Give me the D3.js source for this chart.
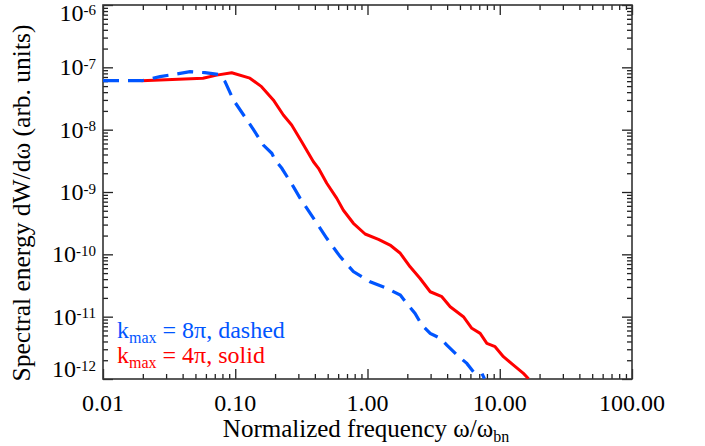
<!DOCTYPE html>
<html>
<head>
<meta charset="utf-8">
<script src="https://cdn.jsdelivr.net/npm/d3@7"></script>
<style>
  html, body { margin: 0; padding: 0; background: #fff; }
  svg { display: block; font-family: "Liberation Serif", "Times New Roman", serif; }
</style>
</head>
<body>
<svg id="chart" width="705" height="446"></svg>
<script>
// ---- data ----
const solidFreq = [0.0196, 0.057, 0.0724, 0.094, 0.129, 0.158, 0.194, 0.231, 0.267, 0.318, 0.390, 0.426, 0.492, 0.586, 0.657, 0.782, 0.959, 1.21, 1.48, 1.77, 2.10, 2.50, 2.98, 3.65, 4.22, 5.31, 6.15, 7.11, 7.99, 9.22, 10.66, 12.7, 15.1, 16.5];
const solidEnergy = [6.1e-8, 6.67e-8, 7.5e-8, 8.2e-8, 6.7e-8, 4.9e-8, 3.0e-8, 1.72e-8, 1.19e-8, 6.4e-9, 3.06e-9, 2.4e-9, 1.38e-9, 7.9e-10, 5.1e-10, 3.15e-10, 2.12e-10, 1.74e-10, 1.41e-10, 1.04e-10, 6.3e-11, 4.1e-11, 2.51e-11, 2.09e-11, 1.44e-11, 9.98e-12, 6.5e-12, 5.4e-12, 3.73e-12, 3.3e-12, 2.28e-12, 1.67e-12, 1.23e-12, 1.01e-12];
const dashedFreq = [0.01, 0.0196, 0.027, 0.0455, 0.059, 0.0745, 0.0837, 0.0968, 0.137, 0.163, 0.189, 0.200, 0.225, 0.275, 0.309, 0.390, 0.492, 0.621, 0.782, 1.046, 1.40, 1.77, 1.98, 2.29, 2.57, 2.98, 3.54, 3.98, 4.74, 5.64, 6.32, 7.33, 7.66];
const dashedEnergy = [6.1e-8, 6.1e-8, 7.1e-8, 8.5e-8, 8.2e-8, 7.7e-8, 5.9e-8, 3.0e-8, 1.01e-8, 5.67e-9, 4.18e-9, 3.26e-9, 2.4e-9, 1.22e-9, 8.0e-10, 3.8e-10, 1.81e-10, 9.2e-11, 5.3e-11, 3.64e-11, 2.85e-11, 2.22e-11, 1.64e-11, 1.13e-11, 7.35e-12, 5.4e-12, 4.5e-12, 3.5e-12, 2.43e-12, 1.78e-12, 1.31e-12, 1.23e-12, 1.01e-12];
const xTickValues = [0.01, 0.1, 1, 10, 100];
const xTickLabels = ["0.01", "0.10", "1.00", "10.00", "100.00"];
const yTickExponents = [-6, -7, -8, -9, -10, -11, -12];

// ---- layout ----
const L = 103, R = 632, T = 5, B = 379;
const svg = d3.select("#chart");
const x = d3.scaleLog().domain([0.01, 100]).range([L, R]);
const y = d3.scaleLog().domain([1e-12, 1e-6]).range([B, T]);

const blue = "#0055ff", red = "#ff0000";
const FS = 24, SUB = 15;

svg.append("defs").append("clipPath").attr("id", "clip")
  .append("rect").attr("x", L).attr("y", T).attr("width", R - L).attr("height", B - T);

// minor tick values
const xMinor = [], yMinor = [];
for (let e = -2; e < 2; e++) for (let m = 2; m <= 9; m++) xMinor.push(m * Math.pow(10, e));
for (let e = -12; e < -6; e++) for (let m = 2; m <= 9; m++) yMinor.push(m * Math.pow(10, e));
const yMajor = yTickExponents.map(e => Math.pow(10, e));

function styleAxis(g) {
  g.select(".domain").remove();
  g.selectAll(".tick line").attr("stroke", "#222").attr("stroke-width", 1.3);
  g.selectAll(".tick text").remove();
}
const axes = svg.append("g");
axes.append("g").attr("transform", `translate(0,${B})`).call(d3.axisBottom(x).tickValues(xTickValues).tickSize(-10).tickFormat("")).call(styleAxis);
axes.append("g").attr("transform", `translate(0,${B})`).call(d3.axisBottom(x).tickValues(xMinor).tickSize(-5).tickFormat("")).call(styleAxis);
axes.append("g").attr("transform", `translate(0,${T})`).call(d3.axisTop(x).tickValues(xTickValues).tickSize(-10).tickFormat("")).call(styleAxis);
axes.append("g").attr("transform", `translate(0,${T})`).call(d3.axisTop(x).tickValues(xMinor).tickSize(-5).tickFormat("")).call(styleAxis);
axes.append("g").attr("transform", `translate(${L},0)`).call(d3.axisLeft(y).tickValues(yMajor).tickSize(-10).tickFormat("")).call(styleAxis);
axes.append("g").attr("transform", `translate(${L},0)`).call(d3.axisLeft(y).tickValues(yMinor).tickSize(-5).tickFormat("")).call(styleAxis);
axes.append("g").attr("transform", `translate(${R},0)`).call(d3.axisRight(y).tickValues(yMajor).tickSize(-10).tickFormat("")).call(styleAxis);
axes.append("g").attr("transform", `translate(${R},0)`).call(d3.axisRight(y).tickValues(yMinor).tickSize(-5).tickFormat("")).call(styleAxis);

// frame
svg.append("rect").attr("x", L).attr("y", T).attr("width", R - L).attr("height", B - T)
  .attr("fill", "none").attr("stroke", "#333").attr("stroke-width", 1.6);

// curves
const line = d3.line().x(d => x(d[0])).y(d => y(d[1]));
const plot = svg.append("g").attr("clip-path", "url(#clip)");
plot.append("path").datum(d3.zip(solidFreq, solidEnergy)).attr("d", line)
  .attr("fill", "none").attr("stroke", red).attr("stroke-width", 3).attr("stroke-linejoin", "round");
plot.append("path").datum(d3.zip(dashedFreq, dashedEnergy)).attr("d", line)
  .attr("fill", "none").attr("stroke", blue).attr("stroke-width", 3.2).attr("stroke-dasharray", "16,9");

// x tick labels
svg.append("g").selectAll("text").data(xTickValues).join("text")
  .attr("x", d => x(d)).attr("y", 411).attr("text-anchor", "middle")
  .attr("font-size", FS).attr("fill", "#000")
  .text((d, i) => xTickLabels[i]);

// y tick labels (first and last kept inside the canvas like the original)
function yBase(e) {
  const p = y(Math.pow(10, e)) + 8;
  return Math.max(21, Math.min(377, p));
}
const yl = svg.append("g").selectAll("text").data(yTickExponents).join("text")
  .attr("x", 96).attr("y", d => yBase(d)).attr("text-anchor", "end")
  .attr("font-size", FS).attr("fill", "#000");
yl.append("tspan").text("10");
yl.append("tspan").attr("dy", -6.5).attr("font-size", SUB).text(d => "-" + Math.abs(d));

// axis titles
const xt = svg.append("text").attr("x", 366).attr("y", 437).attr("text-anchor", "middle")
  .attr("font-size", 25).attr("fill", "#000");
xt.append("tspan").text("Normalized frequency ω/ω");
xt.append("tspan").attr("dy", 5).attr("font-size", 16).text("bn");

svg.append("text").attr("transform", "translate(30,203) rotate(-90)").attr("text-anchor", "middle")
  .attr("font-size", 25.5).attr("fill", "#000").text("Spectral energy dW/dω (arb. units)");

// legend
function legend(yb, color, pre, post) {
  const t = svg.append("text").attr("x", 117).attr("y", yb).attr("font-size", FS).attr("fill", color);
  t.append("tspan").text("k");
  t.append("tspan").attr("dy", 5).attr("font-size", 16).text("max");
  t.append("tspan").attr("dy", -5).text(" = " + pre + ", " + post);
}
legend(338, blue, "8π", "dashed");
legend(363, red, "4π", "solid");
</script>
</body>
</html>
